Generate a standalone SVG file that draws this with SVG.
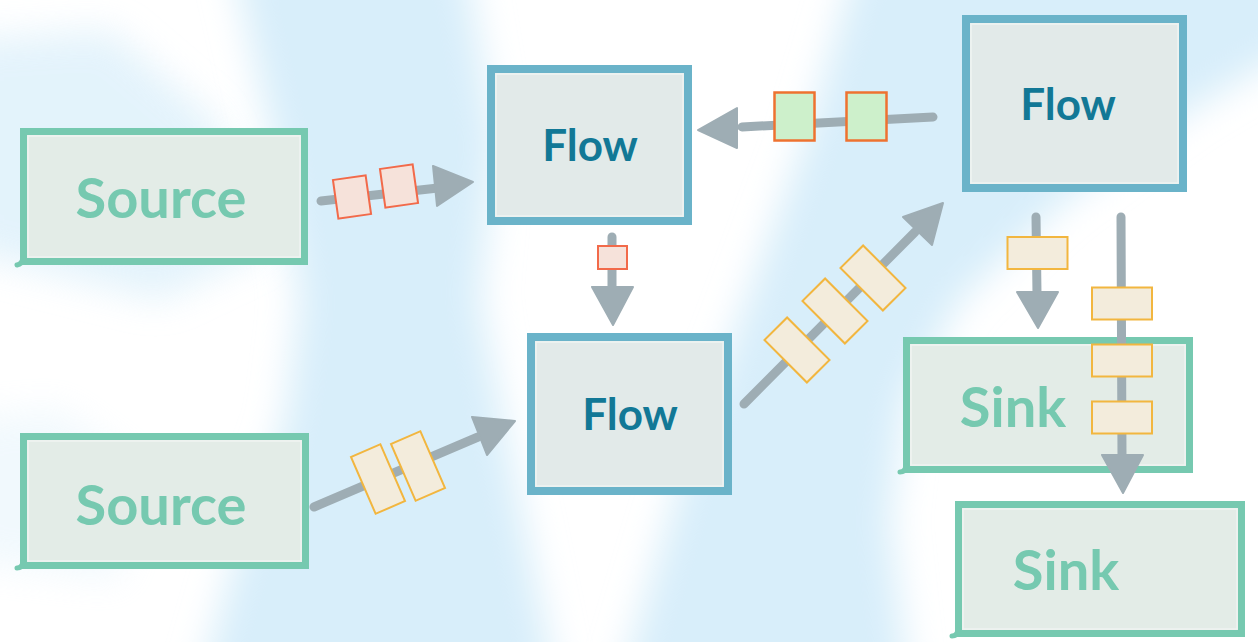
<svg xmlns="http://www.w3.org/2000/svg" width="1258" height="642" viewBox="0 0 1258 642">
<defs>
<filter id="soft" x="-20%" y="-20%" width="140%" height="140%"><feGaussianBlur stdDeviation="18"/></filter>
<style>
.bg{fill:#d8eefa;filter:url(#soft)}
.src{fill:#e3ece7;stroke:#76c9b0;stroke-width:7}
.flw{fill:#e2eae9;stroke:#6ab3c9;stroke-width:8}
.inner{fill:none;stroke:#f3f6f5;stroke-width:1.5;opacity:.8}
.tailg{fill:none;stroke:#76c9b0;stroke-width:5;stroke-linecap:round}
.tailb{fill:none;stroke:#6ab3c9;stroke-width:6;stroke-linecap:round}
.tg{font-family:Lato,"Open Sans",sans-serif;font-weight:700;fill:#76c9b0;font-size:56px;text-anchor:middle}
.tb{font-family:Lato,"Open Sans",sans-serif;font-weight:700;fill:#127896;font-size:44px;text-anchor:middle}
.ln{fill:none;stroke:#9eadb4;stroke-width:9;stroke-linecap:round}
.hd{fill:#9eadb4;stroke:#9eadb4;stroke-width:2;stroke-linejoin:round}
.mp{fill:#f6e2da;stroke:#f26a4a;stroke-width:2}
.mg{fill:#cdf0cb;stroke:#ee7230;stroke-width:2.5}
.my{fill:#f3ecdc;stroke:#f2b63f;stroke-width:2}
</style>
</defs>
<rect width="1258" height="642" fill="#ffffff"/>
<g id="background">
<path class="bg" d="M232,-40 L465,-40 L495,140 L480,300 L515,480 L560,700 L195,700 L235,560 L285,420 L300,300 L275,150 Z"/>
<path class="bg" d="M-40,40 L110,30 L215,120 L265,250 L160,300 L-40,250 Z" opacity="0.7"/>
<path class="bg" d="M-40,420 L60,410 L140,470 L120,580 L-40,560 Z" opacity="0.35"/>
<path class="bg" d="M858,-40 L1300,-40 L1300,45 L1190,110 L1060,205 L960,300 L905,400 L890,520 L910,700 L615,700 L690,450 L750,290 L805,140 Z"/>
</g>
<g id="source1">
<rect class="src" x="23.5" y="131.5" width="281" height="130"/>
<rect class="inner" x="28" y="136" width="272" height="121"/>
<path class="tailg" d="M23,258 Q22,264 17,265"/>
<text class="tg" x="161" y="218">Source</text>
</g>
<g id="source2">
<rect class="src" x="23.5" y="436.5" width="282" height="129"/>
<rect class="inner" x="28" y="441" width="273" height="120"/>
<path class="tailg" d="M23,562 Q22,568 17,568"/>
<text class="tg" x="161" y="525">Source</text>
</g>
<g id="flow1">
<rect class="flw" x="491" y="69" width="197" height="152"/>
<rect class="inner" x="496" y="74" width="187" height="142"/>
<text class="tb" x="590" y="161">Flow</text>
</g>
<g id="flow2">
<rect class="flw" x="531" y="337" width="197" height="154"/>
<rect class="inner" x="536" y="342" width="187" height="144"/>
<text class="tb" x="630" y="430">Flow</text>
</g>
<g id="flow3">
<rect class="flw" x="966" y="19" width="217" height="169"/>
<rect class="inner" x="971" y="24" width="207" height="159"/>
<text class="tb" x="1068" y="120">Flow</text>
</g>
<g id="sink1">
<rect class="src" x="906.5" y="340.5" width="283" height="129"/>
<rect class="inner" x="911" y="345" width="274" height="120"/>
<path class="tailg" d="M906,466 Q905,472 900,472"/>
<text class="tg" x="1013" y="427">Sink</text>
</g>
<g id="sink2">
<rect class="src" x="958.5" y="504.5" width="283" height="129"/>
<rect class="inner" x="963" y="509" width="274" height="120"/>
<path class="tailg" d="M958,630 Q957,636 952,636"/>
<text class="tg" x="1066" y="590">Sink</text>
</g>
<g id="connectors">
<path class="ln" d="M321,201 L438,188"/>
<polygon class="hd" points="433,166 473,182 437,206"/>
<rect class="mp" x="-16.5" y="-19.5" width="33" height="39" transform="translate(352,197) rotate(-8)"/>
<rect class="mp" x="-16.5" y="-19.5" width="33" height="39" transform="translate(399,186) rotate(-8)"/>

<path class="ln" d="M612,237 L612,290"/>
<polygon class="hd" points="592,287 633,287 613,325"/>
<rect class="mp" x="598" y="246" width="29" height="23"/>

<path class="ln" d="M933,117 L742,127"/>
<polygon class="hd" points="737,108 737,148 698,130"/>
<rect class="mg" x="774.5" y="92.5" width="40" height="48"/>
<rect class="mg" x="846.5" y="92.5" width="40" height="48"/>

<path class="ln" d="M314,507 L478,437"/>
<polygon class="hd" points="472,417 515,421 487,455"/>
<rect class="my" x="-16" y="-31" width="32" height="62" transform="translate(378,479) rotate(-23.4)"/>
<rect class="my" x="-16" y="-31" width="32" height="62" transform="translate(418,466) rotate(-23.4)"/>

<path class="ln" d="M744,404 L915,232"/>
<polygon class="hd" points="903,217 943,203 932,245"/>
<rect class="my" x="-16" y="-30" width="32" height="60" transform="translate(797,350) rotate(-45)"/>
<rect class="my" x="-16" y="-30" width="32" height="60" transform="translate(835,311) rotate(-45)"/>
<rect class="my" x="-16" y="-30" width="32" height="60" transform="translate(873,278) rotate(-45)"/>

<path class="ln" d="M1036,217 L1037,294"/>
<polygon class="hd" points="1017,292 1058,292 1038,328"/>
<rect class="my" x="1007.5" y="237" width="60" height="32"/>

<path class="ln" d="M1121,217 L1122,458"/>
<polygon class="hd" points="1102,455 1143,455 1123,493"/>
<rect class="my" x="1092" y="287.5" width="60" height="32"/>
<rect class="my" x="1092" y="344.5" width="60" height="32"/>
<rect class="my" x="1092" y="401.5" width="60" height="32"/>
</g>
</svg>
